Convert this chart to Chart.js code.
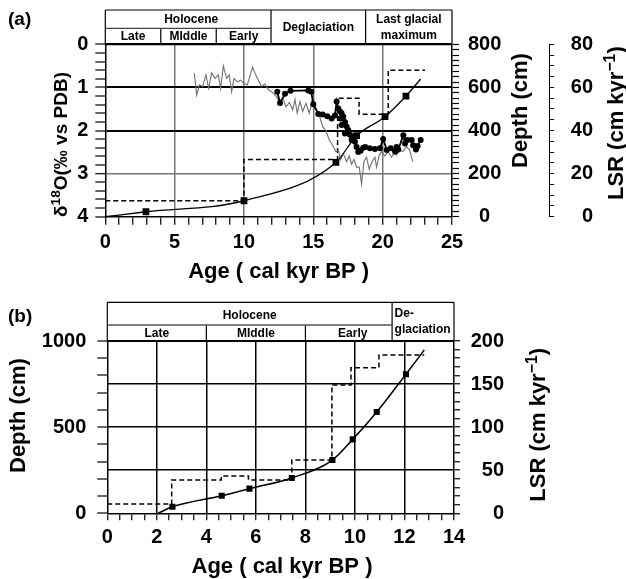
<!DOCTYPE html>
<html><head><meta charset="utf-8">
<script src="https://cdn.jsdelivr.net/npm/chart.js@4.4.1/dist/chart.umd.min.js"></script>
<style>
html,body{margin:0;padding:0;background:#fff;width:626px;height:579px;overflow:hidden;}
canvas{position:absolute;left:0;}
#ca{top:0;} #cb{top:290px;}
</style></head><body>
<canvas id="ca" width="626" height="290" style="width:626px;height:290px"></canvas>
<canvas id="cb" width="626" height="289" style="width:626px;height:289px"></canvas>
<script>
const FAM = '"Liberation Sans", Arial, Helvetica, sans-serif';
Chart.defaults.font.family = FAM;
Chart.defaults.color = '#000';

// ===== Panel (a) data =====
const grayAge = [6.42,6.59,6.78,7.02,7.26,7.45,7.67,7.91,8.15,8.32,8.51,8.75,8.94,9.11,9.28,9.52,9.76,10.0,10.24,10.43,10.62,10.79,11.03,11.27,11.51,11.75,12.07,12.31,12.55,12.79,13.03,13.27,13.51,13.68,13.84,14.04,14.23,14.47,14.71,14.95,15.14,15.43,15.67,15.91,16.15,16.39,16.63,16.8,16.97,17.16,17.4,17.59,17.76,17.93,18.12,18.31,18.48,18.65,18.84,19.03,19.2,19.44,19.56,19.75,19.92,20.16,20.4,20.64,20.81,21.0,21.24,21.48,21.72,21.96,22.16];
const grayD18O = [0.67,1.18,0.94,0.98,0.71,1.02,0.66,0.79,0.71,1.02,0.50,0.79,0.71,1.10,0.79,0.87,0.83,0.91,0.94,0.74,0.53,0.67,0.83,0.98,0.92,1.05,1.12,1.20,1.33,1.25,1.45,1.35,1.52,1.28,1.60,1.33,1.56,1.37,1.60,1.25,1.45,1.64,1.91,2.00,2.22,2.34,2.49,2.45,2.68,2.53,2.72,2.59,2.78,2.67,2.85,2.85,3.24,2.72,2.62,2.90,2.75,2.62,2.85,2.57,2.49,2.59,2.49,2.62,2.53,2.57,2.45,2.49,2.37,2.47,2.72];
const circAge = [12.40,12.60,12.96,13.35,14.64,14.85,15.00,15.36,15.67,16.00,16.32,16.56,16.68,16.80,16.92,17.04,17.16,16.95,17.28,17.04,17.40,17.28,17.52,17.64,17.76,17.88,18.00,18.12,18.24,18.41,18.60,18.75,19.08,19.44,19.80,20.04,20.29,20.58,20.89,21.00,21.13,21.49,21.61,21.78,22.09,22.20,22.40,22.52,22.74];
const circD18O = [1.10,1.36,1.15,1.08,1.07,1.10,1.39,1.62,1.63,1.67,1.72,1.65,1.33,1.49,1.56,1.60,1.68,1.72,1.80,1.87,1.91,2.07,1.99,2.10,2.22,2.14,2.26,2.38,2.50,2.47,2.40,2.38,2.41,2.43,2.41,2.20,2.45,2.41,2.49,2.38,2.44,2.11,2.30,2.22,2.22,2.34,2.44,2.36,2.22];
const modelAgeA = [0, 2.93, 10.0, 16.63, 18.12, 20.17, 21.68, 22.74];
const modelDepthA = [0, 23, 74, 252, 376, 464, 560, 639];
const lsrAgeA = [0, 10, 16.75, 18.3, 20.4, 23.05];
const lsrA = [7.4, 26.6, 55, 47.5, 68, 68];
const headerAgeA = [0, 4, 8, 11.95, 18.77, 25];
const xTickLabelsA = [0, 5, 10, 15, 20, 25];
const d18OTickLabels = [0, 1, 2, 3, 4];
const depthTickLabelsA = [0, 200, 400, 600, 800];
const lsrTickLabelsA = [0, 20, 40, 60, 80];

// ===== Panel (b) data =====
const modelAgeB = [2.06, 2.63, 4.62, 5.74, 7.45, 9.09, 9.91, 10.88, 12.06, 12.8];
const modelDepthB = [0, 38, 102, 143, 205, 309, 429, 588, 807, 948];
const lsrAgeB = [0, 2.6, 4.6, 5.7, 7.45, 9.07, 9.84, 10.97, 12.8];
const lsrB = [10.8, 38.7, 43.3, 38.7, 61.9, 148.9, 169, 183.7, 183.7];
const headerAgeB = [0, 4, 8, 11.5, 14];
const xTickLabelsB = [0, 2, 4, 6, 8, 10, 12, 14];
const depthTickLabelsB = [0, 500, 1000];
const lsrTickLabelsB = [0, 50, 100, 150, 200];

const near = (a, b) => Math.abs(a - b) < 1e-6;
const lab = arr => v => { const f = arr.find(a => near(a, v)); return f === undefined ? '' : String(f); };
const inList = (arr, c) => c.tick && arr.some(a => near(a, c.tick.value));
const pts = (xs, ys) => xs.map((x, i) => ({x, y: ys[i]}));
const tickFont = {size: 20, weight: 'bold'};
const NONE = 'rgba(0,0,0,0)';

function vText(ctx, parts, x, y, size) {
  ctx.save();
  ctx.translate(x, y); ctx.rotate(-Math.PI / 2);
  ctx.textAlign = 'left'; ctx.textBaseline = 'alphabetic'; ctx.fillStyle = '#000';
  let cx = 0;
  for (const p of parts) {
    const fs = p.sup ? size * 0.72 : size;
    ctx.font = 'bold ' + fs + 'px ' + FAM;
    ctx.fillText(p.t, cx, p.sup ? -size * 0.38 : 0);
    cx += ctx.measureText(p.t).width;
  }
  ctx.restore();
}
function hLine(ctx, x1, y1, x2, y2) { ctx.beginPath(); ctx.moveTo(x1, y1); ctx.lineTo(x2, y2); ctx.stroke(); }
function cText(ctx, t, x, y, size) {
  ctx.font = 'bold ' + size + 'px ' + FAM; ctx.textAlign = 'center'; ctx.textBaseline = 'middle';
  ctx.fillStyle = '#000'; ctx.fillText(t, x, y);
}

const plugA = {
  id: 'plugA',
  afterDraw(chart) {
    const ctx = chart.ctx, ca = chart.chartArea, X = v => chart.scales.x.getPixelForValue(v);
    const h = headerAgeA, top = 10, mid = 28.3, bot = ca.top;
    ctx.save();
    ctx.strokeStyle = '#000'; ctx.lineWidth = 1.2;
    hLine(ctx, X(h[0]), top, X(h[5]), top);
    hLine(ctx, X(h[0]), top, X(h[0]), bot);
    hLine(ctx, X(h[5]), top, X(h[5]), bot);
    hLine(ctx, X(h[3]), top, X(h[3]), bot);
    hLine(ctx, X(h[4]), top, X(h[4]), bot);
    hLine(ctx, X(h[1]), mid, X(h[1]), bot);
    hLine(ctx, X(h[2]), mid, X(h[2]), bot);
    ctx.strokeStyle = '#444';
    hLine(ctx, X(h[0]), mid, X(h[3]), mid);
    ctx.strokeStyle = '#000'; ctx.lineWidth = 2;
    hLine(ctx, X(h[0]), bot, X(h[5]), bot);
    cText(ctx, 'Holocene', (X(h[0]) + X(h[3])) / 2 + 3, 19.5, 12);
    cText(ctx, 'Late', (X(h[0]) + X(h[1])) / 2, 37, 12);
    cText(ctx, 'MIddle', (X(h[1]) + X(h[2])) / 2, 37, 12);
    cText(ctx, 'Early', (X(h[2]) + X(h[3])) / 2, 37, 12);
    cText(ctx, 'Deglaciation', (X(h[3]) + X(h[4])) / 2, 27.5, 12);
    cText(ctx, 'Last glacial', (X(h[4]) + X(h[5])) / 2, 20, 12);
    cText(ctx, 'maximum', (X(h[4]) + X(h[5])) / 2, 36, 12);
    // panel label
    ctx.font = 'bold 19px ' + FAM; ctx.textAlign = 'left'; ctx.textBaseline = 'middle';
    ctx.fillText('(a)', 8, 20);
    // axis titles
    vText(ctx, [{t: 'δ'}, {t: '18', sup: true}, {t: 'O(‰ vs PDB)'}], 67, 217, 19);
    vText(ctx, [{t: 'Depth (cm)'}], 527, 168, 22);
    vText(ctx, [{t: 'LSR (cm kyr'}, {t: '−1', sup: true}, {t: ')'}], 623, 200, 22);
    ctx.font = 'bold 22px ' + FAM; ctx.textAlign = 'center'; ctx.textBaseline = 'alphabetic';
    ctx.fillText('Age ( cal kyr BP )', (ca.left + ca.right) / 2, 277.5);
    ctx.restore();
  }
};

const plugB = {
  id: 'plugB',
  afterDraw(chart) {
    const ctx = chart.ctx, ca = chart.chartArea, X = v => chart.scales.x.getPixelForValue(v);
    const h = headerAgeB, top = 12.3, mid = 35, bot = ca.top;
    ctx.save();
    ctx.strokeStyle = '#000'; ctx.lineWidth = 1.2;
    hLine(ctx, X(h[0]), top, X(h[4]), top);
    hLine(ctx, X(h[0]), top, X(h[0]), bot);
    hLine(ctx, X(h[4]), top, X(h[4]), bot);
    hLine(ctx, X(h[3]), top, X(h[3]), bot);
    hLine(ctx, X(h[1]), mid, X(h[1]), bot);
    hLine(ctx, X(h[2]), mid, X(h[2]), bot);
    ctx.strokeStyle = '#555'; ctx.lineWidth = 1.5;
    hLine(ctx, X(h[0]), mid, X(h[3]), mid);
    ctx.strokeStyle = '#000'; ctx.lineWidth = 2;
    hLine(ctx, X(h[0]), bot, X(h[4]), bot);
    cText(ctx, 'Holocene', (X(h[0]) + X(h[3])) / 2, 25.7, 12);
    cText(ctx, 'Late', (X(h[0]) + X(h[1])) / 2, 43.3, 12);
    cText(ctx, 'MIddle', (X(h[1]) + X(h[2])) / 2, 43.3, 12);
    cText(ctx, 'Early', (X(h[2]) + X(h[3])) / 2 + 4, 43.3, 12);
    ctx.font = 'bold 12px ' + FAM; ctx.textAlign = 'left'; ctx.textBaseline = 'middle';
    ctx.fillText('De-', X(h[3]) + 2.5, 23.5);
    ctx.fillText('glaciation', X(h[3]) + 2.5, 39.3);
    ctx.font = 'bold 19px ' + FAM;
    ctx.fillText('(b)', 8, 27);
    vText(ctx, [{t: 'Depth (cm)'}], 25, 183, 22);
    vText(ctx, [{t: 'LSR (cm kyr'}, {t: '−1', sup: true}, {t: ')'}], 545, 211.7, 22);
    ctx.font = 'bold 22px ' + FAM; ctx.textAlign = 'center'; ctx.textBaseline = 'alphabetic';
    ctx.fillText('Age ( cal kyr BP )', 282, 283.3);
    ctx.restore();
  }
};

const common = {
  responsive: false, animation: false, devicePixelRatio: 1,
  plugins: {legend: {display: false}, tooltip: {enabled: false}},
  elements: {line: {fill: false}}
};

new Chart(document.getElementById('ca'), {
  type: 'line',
  data: {datasets: [
    {data: pts(modelAgeA, modelDepthA), yAxisID: 'yD', borderColor: '#000', borderWidth: 1.3,
     cubicInterpolationMode: 'monotone', pointStyle: 'rect',
     pointRadius: c => (c.dataIndex === 0 || c.dataIndex === modelAgeA.length - 1) ? 0 : 4.8,
     pointBackgroundColor: '#000', pointBorderColor: '#000', pointBorderWidth: 0},
    {data: pts(circAge, circD18O), yAxisID: 'yL', borderColor: '#000', borderWidth: 1.8,
     pointStyle: 'circle', pointRadius: 3, pointBackgroundColor: '#000', pointBorderColor: '#000', pointBorderWidth: 0},
    {data: pts(grayAge, grayD18O), yAxisID: 'yL', borderColor: '#707070', borderWidth: 1.1, pointRadius: 0},
    {data: pts(lsrAgeA, lsrA), yAxisID: 'yLSR', borderColor: '#000', borderWidth: 1.5, borderDash: [5, 3],
     stepped: true, pointRadius: 0}
  ]},
  options: Object.assign({}, common, {
    layout: {padding: {top: 44.3, right: 33, left: 0, bottom: 0}},
    scales: {
      x: {type: 'linear', position: 'bottom', min: 0, max: 25,
        afterFit: s => { s.height = 73.3; },
        ticks: {stepSize: 1, autoSkip: false, maxRotation: 0, minRotation: 0, padding: 6, font: tickFont, callback: lab(xTickLabelsA)},
        grid: {color: c => inList([5, 10, 15, 20], c) ? '#777' : NONE, lineWidth: 1.5,
               tickColor: '#000', tickWidth: 1.2, tickLength: 8},
        border: {display: true, color: '#000', width: 1.5}},
      yL: {type: 'linear', position: 'left', reverse: true, min: 0, max: 4,
        afterFit: s => { s.width = 105.3; },
        ticks: {stepSize: 0.2, autoSkip: false, padding: 7, font: tickFont, callback: lab(d18OTickLabels)},
        grid: {color: c => inList([0, 1, 2], c) ? '#000' : (inList([3], c) ? '#777' : NONE),
               lineWidth: c => inList([3], c) ? 1.4 : 2, tickColor: '#000', tickWidth: 1.2, tickLength: 10},
        border: {display: true, color: '#000', width: 1.5}},
      yD: {type: 'linear', position: 'right', min: 0, max: 800,
        afterFit: s => { s.width = 97; },
        ticks: {stepSize: 25, autoSkip: false, padding: 9, crossAlign: 'center', font: tickFont, callback: lab(depthTickLabelsA)},
        grid: {drawOnChartArea: false, tickColor: '#000', tickWidth: 1.2, tickLength: 7},
        border: {display: true, color: '#000', width: 1.5}},
      yLSR: {type: 'linear', position: 'right', min: 0, max: 80,
        afterFit: s => { s.width = 44; },
        ticks: {stepSize: 5, autoSkip: false, crossAlign: 'far', font: tickFont, callback: lab(lsrTickLabelsA)},
        grid: {drawOnChartArea: false, tickColor: '#000', tickWidth: 1, tickLength: 5},
        border: {display: true, color: '#000', width: 1}}
    }
  }),
  plugins: [plugA]
});

new Chart(document.getElementById('cb'), {
  type: 'line',
  data: {datasets: [
    {data: pts(modelAgeB, modelDepthB), yAxisID: 'yL', borderColor: '#000', borderWidth: 1.5,
     cubicInterpolationMode: 'monotone', pointStyle: 'rect',
     pointRadius: c => (c.dataIndex === 0 || c.dataIndex === modelAgeB.length - 1) ? 0 : 4.3,
     pointBackgroundColor: '#000', pointBorderColor: '#000', pointBorderWidth: 0},
    {data: pts(lsrAgeB, lsrB), yAxisID: 'yR', borderColor: '#000', borderWidth: 1.5, borderDash: [5, 3],
     stepped: true, pointRadius: 0}
  ]},
  options: Object.assign({}, common, {
    layout: {padding: {top: 51, right: 122, left: 0, bottom: 0}},
    scales: {
      x: {type: 'linear', position: 'bottom', min: 0, max: 14,
        afterFit: s => { s.height = 65.7; },
        ticks: {stepSize: 0.5, autoSkip: false, maxRotation: 0, minRotation: 0, padding: 5, font: tickFont, callback: lab(xTickLabelsB)},
        grid: {color: c => inList([2, 4, 6, 8, 10, 12], c) ? '#000' : NONE, lineWidth: 1.5,
               tickColor: '#000', tickWidth: 1.2, tickLength: 7},
        border: {display: true, color: '#000', width: 1.5}},
      yL: {type: 'linear', position: 'left', min: 0, max: 1000,
        afterFit: s => { s.width = 107.3; },
        ticks: {stepSize: 100, autoSkip: false, padding: 11, font: tickFont, callback: lab(depthTickLabelsB)},
        grid: {color: c => inList([1000], c) ? '#000' : NONE, lineWidth: 2,
               tickColor: '#000', tickWidth: 1.2, tickLength: 10},
        border: {display: true, color: '#000', width: 1.5}},
      yR: {type: 'linear', position: 'right', min: 0, max: 200,
        afterFit: s => { s.width = 50; },
        ticks: {stepSize: 10, autoSkip: false, crossAlign: 'far', font: tickFont, callback: lab(lsrTickLabelsB)},
        grid: {color: c => inList([50, 100, 150], c) ? '#000' : NONE, lineWidth: 1.5,
               tickColor: '#000', tickWidth: 1.2, tickLength: 6},
        border: {display: true, color: '#000', width: 1.5}}
    }
  }),
  plugins: [plugB]
});
</script></body></html>
